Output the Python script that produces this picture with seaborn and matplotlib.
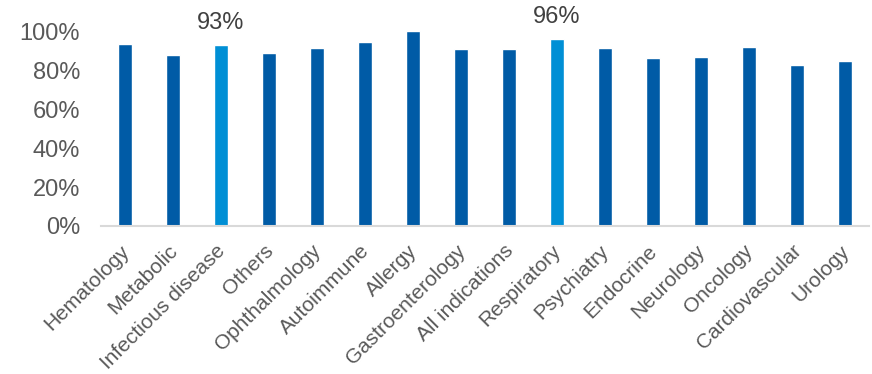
import matplotlib
matplotlib.use("Agg")
import matplotlib.pyplot as plt
import matplotlib.transforms as mtransforms
import seaborn as sns
import pandas as pd

categories = ["Hematology", "Metabolic", "Infectious disease", "Others", "Ophthalmology",
              "Autoimmune", "Allergy", "Gastroenterology", "All indications", "Respiratory",
              "Psychiatry", "Endocrine", "Neurology", "Oncology", "Cardiovascular", "Urology"]
values = [0.934, 0.877, 0.93, 0.887, 0.913, 0.944, 1.00, 0.911, 0.908, 0.96,
          0.913, 0.865, 0.868, 0.921, 0.826, 0.846]
highlighted = ["Infectious disease", "Respiratory"]

DARK = "#005BA6"
LIGHT = "#008FD5"
GREY_TEXT = "#595959"

df = pd.DataFrame({"category": categories, "value": values})
df["group"] = ["hi" if c in highlighted else "base" for c in categories]

sns.set_theme(style="white")
plt.rcParams["font.family"] = ["Liberation Sans", "DejaVu Sans"]

fig = plt.figure(figsize=(8.72, 3.74), dpi=100)
ax = fig.add_axes([101 / 872, (374 - 226) / 374, (869 - 101) / 872, 194.6 / 374])

sns.barplot(data=df, x="category", y="value", hue="group",
            palette={"base": DARK, "hi": LIGHT}, width=0.31,
            dodge=False, legend=False, saturation=1, ax=ax)

ax.set_ylim(0, 1.0)
ax.set_xlim(-0.5, len(categories) - 0.5)
ax.set_yticks([0, 0.2, 0.4, 0.6, 0.8, 1.0])
ax.set_yticklabels([f"{int(round(t * 100))}%" for t in ax.get_yticks()])
ax.tick_params(axis="y", labelsize=17, colors=GREY_TEXT, length=0, pad=15)
ax.tick_params(axis="x", length=0, pad=9)
ax.set_xticks(range(len(categories)))
ax.set_xticklabels(categories, rotation=45, ha="right", va="top",
                   rotation_mode="anchor", fontsize=15, color=GREY_TEXT)
# nudge the slanted category labels slightly left and down
shift = mtransforms.ScaledTranslation(-4 / 72, -2 / 72, fig.dpi_scale_trans)
for lbl in ax.get_xticklabels():
    lbl.set_transform(lbl.get_transform() + shift)
ax.set_xlabel("")
ax.set_ylabel("")

for side in ["top", "right", "left"]:
    ax.spines[side].set_visible(False)
ax.spines["bottom"].set_color("#D9D9D9")
ax.spines["bottom"].set_linewidth(1.5)

for bar in ax.patches:
    bar.set_clip_on(False)

for cat in highlighted:
    i = categories.index(cat)
    v = values[i]
    ax.annotate(f"{int(round(v * 100))}%", xy=(i, v), xytext=(0, 8),
                textcoords="offset points", ha="center", va="bottom",
                fontsize=17, color="#404040", annotation_clip=False)

fig.savefig("out.png", dpi=100)
